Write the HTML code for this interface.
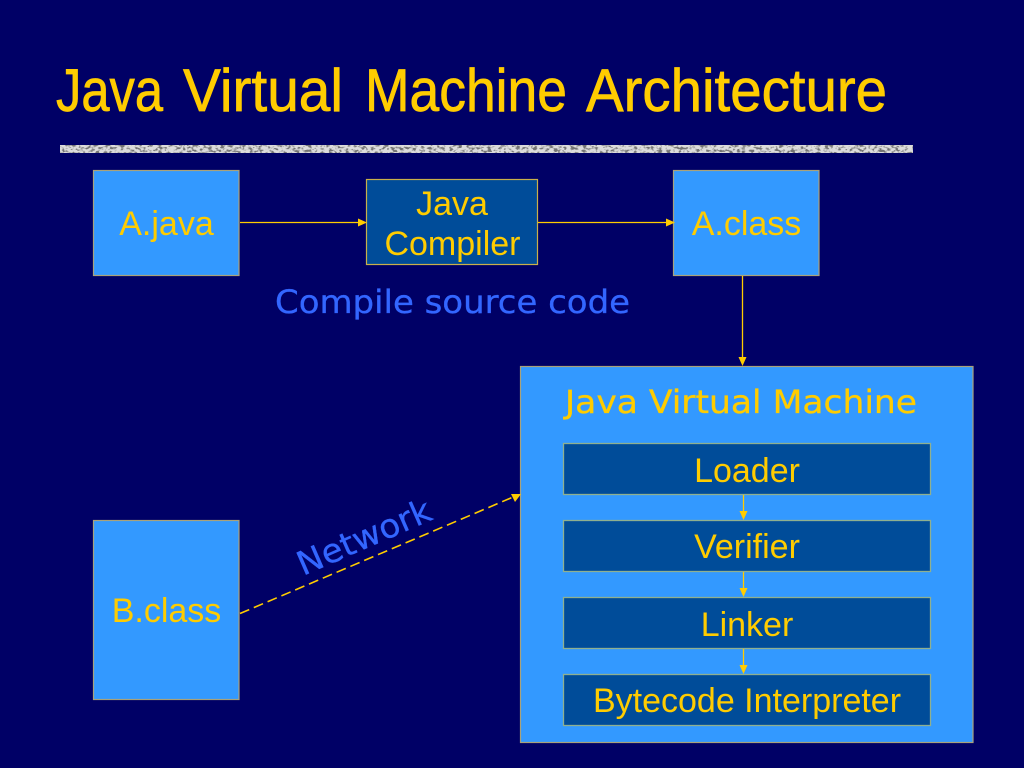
<!DOCTYPE html>
<html>
<head>
<meta charset="utf-8">
<title>Java Virtual Machine Architecture</title>
<style>
html,body{margin:0;padding:0;background:#000066;width:1024px;height:768px;overflow:hidden}
svg{display:block}
.s{font-family:"Liberation Sans",sans-serif;fill:#ffcc00;font-size:34px;text-anchor:middle}
.d{font-family:"DejaVu Sans",sans-serif}
.t{font-family:"Liberation Sans",sans-serif;font-size:60px;fill:#ffcc00;stroke:#ffcc00;stroke-width:.7}
</style>
</head>
<body>
<svg width="1024" height="768" viewBox="0 0 1024 768" xmlns="http://www.w3.org/2000/svg">
<defs>
<filter id="n" x="0" y="0" width="100%" height="100%" color-interpolation-filters="sRGB">
<feTurbulence type="fractalNoise" baseFrequency="0.24 0.38" numOctaves="2" seed="7"/>
<feColorMatrix type="matrix" values="0 0 0 0 0.45  0 0 0 0 0.45  0 0 0 0 0.45  4 4 0 0 -3.9"/>
<feComposite in2="SourceGraphic" operator="in"/>
</filter>
</defs>
<rect width="1024" height="768" fill="#000066"/>
<text class="t" x="56" y="111" textLength="107" lengthAdjust="spacingAndGlyphs">Java</text>
<text class="t" x="183" y="111" textLength="160" lengthAdjust="spacingAndGlyphs">Virtual</text>
<text class="t" x="365" y="111" textLength="202" lengthAdjust="spacingAndGlyphs">Machine</text>
<text class="t" x="586" y="111" textLength="301" lengthAdjust="spacingAndGlyphs">Architecture</text>
<rect x="60" y="145" width="853" height="8" fill="#dcdcdc"/>
<rect x="60" y="145" width="853" height="8" fill="#808080" filter="url(#n)"/>

<g stroke="#a9a27a" stroke-width="1.2">
<rect x="93.5" y="170.5" width="145.500" height="105" fill="#3399ff"/>
<rect x="673.5" y="170.5" width="145.500" height="105" fill="#3399ff"/>
<rect x="93.5" y="520.5" width="145.500" height="179" fill="#3399ff"/>
<rect x="520.5" y="366.5" width="452.500" height="376" fill="#3399ff"/>
</g>
<rect x="366.500" y="179.5" width="171" height="85" fill="#004c99" stroke="#c9b04a" stroke-width="1.2"/>
<g fill="#004c99" stroke="#8fb08f" stroke-width="1.3">
<rect x="563.5" y="443.5" width="367" height="51"/>
<rect x="563.5" y="520.5" width="367" height="51"/>
<rect x="563.5" y="597.5" width="367" height="51"/>
<rect x="563.5" y="674.5" width="367" height="51"/>
</g>

<g stroke="#ffcc00" stroke-width="1.3" fill="none">
<line x1="240" y1="222.5" x2="360" y2="222.5"/>
<line x1="538" y1="222.5" x2="667" y2="222.5"/>
<line x1="742.5" y1="276" x2="742.5" y2="359"/>
<line x1="743.5" y1="495" x2="743.5" y2="513"/>
<line x1="743.5" y1="572" x2="743.5" y2="590"/>
<line x1="743.5" y1="649" x2="743.5" y2="667"/>
<line x1="240" y1="613.5" x2="512" y2="497.5" stroke-dasharray="10 5" stroke-width="1.6"/>
</g>
<g fill="#ffcc00">
<polygon points="367,222.5 358,218.5 358,226.5"/>
<polygon points="675,222.5 666,218.5 666,226.5"/>
<polygon points="742.5,366 738.5,357 746.5,357"/>
<polygon points="743.5,520 739.5,511 747.5,511"/>
<polygon points="743.5,597 739.5,588 747.5,588"/>
<polygon points="743.5,674 739.5,665 747.5,665"/>
<polygon points="521,494 511,494 515,502"/>
</g>

<text class="s" x="166.5" y="235">A.java</text>
<text class="s" x="746.5" y="235">A.class</text>
<text class="s" x="166.5" y="622">B.class</text>
<text class="s" x="452" y="215">Java</text>
<text class="s" x="452.500" y="255">Compiler</text>
<text class="s" x="747" y="482">Loader</text>
<text class="s" x="747" y="558">Verifier</text>
<text class="s" x="747" y="636">Linker</text>
<text class="s" x="747" y="712">Bytecode Interpreter</text>

<text class="d" x="275" y="313" font-size="32" fill="#3366ff" stroke="#3366ff" stroke-width=".3" textLength="355" lengthAdjust="spacingAndGlyphs">Compile source code</text>
<text class="d" x="565" y="413" font-size="32" fill="#ffcc00" stroke="#ffcc00" stroke-width=".3" textLength="352" lengthAdjust="spacingAndGlyphs">Java Virtual Machine</text>
<text class="d" transform="translate(303,576) rotate(-23.5)" font-size="33" fill="#3366ff" stroke="#3366ff" stroke-width=".3" textLength="143" lengthAdjust="spacingAndGlyphs">Network</text>
</svg>
</body>
</html>
